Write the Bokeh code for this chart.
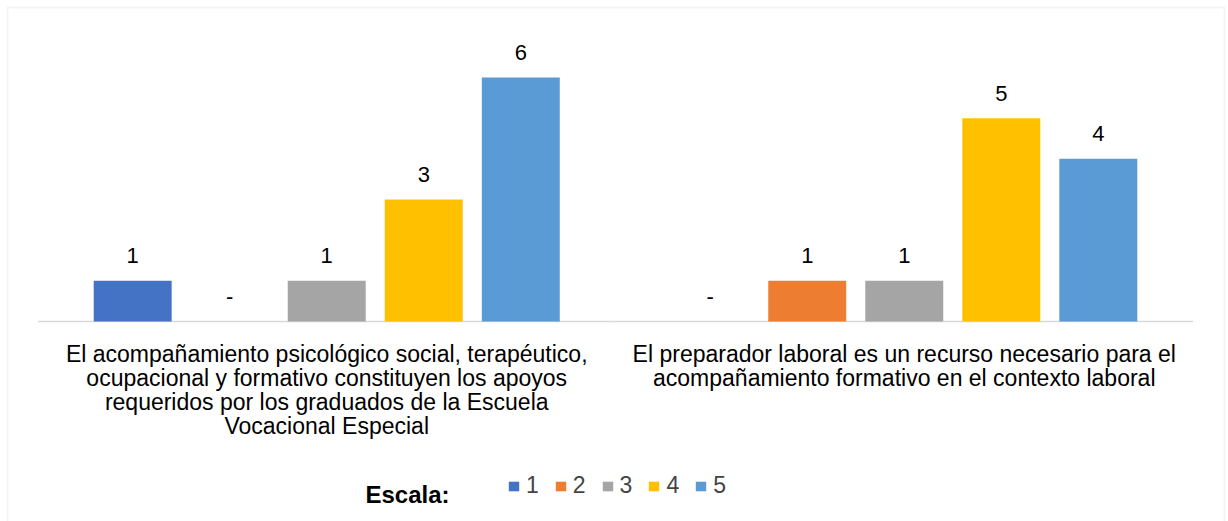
from bokeh.plotting import figure
from bokeh.models import FactorRange, Range1d, Legend, LegendItem, Label, BoxAnnotation, ColumnDataSource
from bokeh.transform import dodge
from bokeh.core.properties import value
from bokeh.embed import file_html
from bokeh.resources import INLINE

categories = [
    "El acompañamiento psicológico social, terapéutico,\nocupacional y formativo constituyen los apoyos\nrequeridos por los graduados de la Escuela\nVocacional Especial",
    "El preparador laboral es un recurso necesario para el\nacompañamiento formativo en el contexto laboral",
]
series = ["1", "2", "3", "4", "5"]
values_1 = [1, 0]
values_2 = [0, 1]
values_3 = [1, 1]
values_4 = [3, 5]
values_5 = [6, 4]
colors = ["#4472C4", "#ED7D31", "#A5A5A5", "#FFC000", "#5B9BD5"]
legend_title = "Escala:"

all_values = [values_1, values_2, values_3, values_4, values_5]
data = {"cat": categories, "zero": [0, 0]}
for s, vals in zip(series, all_values):
    data["v" + s] = vals
    data["t" + s] = [str(v) if v else "-" for v in vals]
src = ColumnDataSource(data)

FONT = "Liberation Sans"
W, H = 1228, 521
LEFT = 2
PX_PER_UNIT = 40.667
BASE_Y = 321  # pixel row of the value axis zero

p = figure(x_range=FactorRange(*categories, range_padding=0.0614, range_padding_units="absolute"),
           y_range=Range1d(-(H - BASE_Y) / PX_PER_UNIT, BASE_Y / PX_PER_UNIT),
           width=W, height=H, output_backend="svg", toolbar_location=None,
           min_border=0, min_border_left=LEFT, min_border_right=0,
           min_border_top=0, min_border_bottom=0)
p.background_fill_color = "white"
p.border_fill_color = "white"
p.outline_line_color = None
p.xgrid.grid_line_color = None
p.ygrid.grid_line_color = None
p.xaxis.visible = False
p.yaxis.visible = False

# category baseline
p.segment(x0=dodge("cat", -0.5, range=p.x_range), x1=dodge("cat", 0.5, range=p.x_range),
          y0="zero", y1="zero", source=src, line_color="#D9D9D9", line_width=1.5)

# category labels
p.text(x="cat", y="zero", text="cat", source=src, y_offset=19,
       text_align="center", text_baseline="top", text_line_height=0.93,
       text_font=value(FONT), text_font_size="23px", text_color="#000000")

step = 0.168
bw = 0.135
items = []
for i, s in enumerate(series):
    off = (i - 2) * step
    r = p.vbar(x=dodge("cat", off, range=p.x_range), top="v" + s, width=bw, source=src,
               fill_color=colors[i], line_color=None)
    p.text(x=dodge("cat", off, range=p.x_range), y="v" + s, text="t" + s, source=src,
           text_align="center", text_baseline="alphabetic", y_offset=-25,
           text_font=value(FONT), text_font_size="22px", text_color="#000000")
    items.append(LegendItem(label=s, renderers=[r]))

legend = Legend(items=items, orientation="horizontal", location=(507 - LEFT, 22),
                glyph_width=13, glyph_height=12, label_standoff=6, spacing=15,
                label_width=12, padding=0, margin=0, border_line_color=None,
                background_fill_alpha=0, label_text_font=FONT,
                label_text_font_size="23px", label_height=20)
p.add_layout(legend, "center")

p.add_layout(Label(x=365 - LEFT, y=27, x_units="screen", y_units="screen", text=legend_title,
                   text_baseline="alphabetic",
                   text_font=FONT, text_font_size="24px", text_font_style="bold",
                   text_color="#000000"))

p.add_layout(BoxAnnotation(left=7 - LEFT, right=1224 - LEFT, top=514, bottom=-10,
                           left_units="screen", right_units="screen",
                           top_units="screen", bottom_units="screen",
                           fill_alpha=0, line_color="#D9D9D9", line_width=2))

open("out.html", "w").write(file_html(p, INLINE))
